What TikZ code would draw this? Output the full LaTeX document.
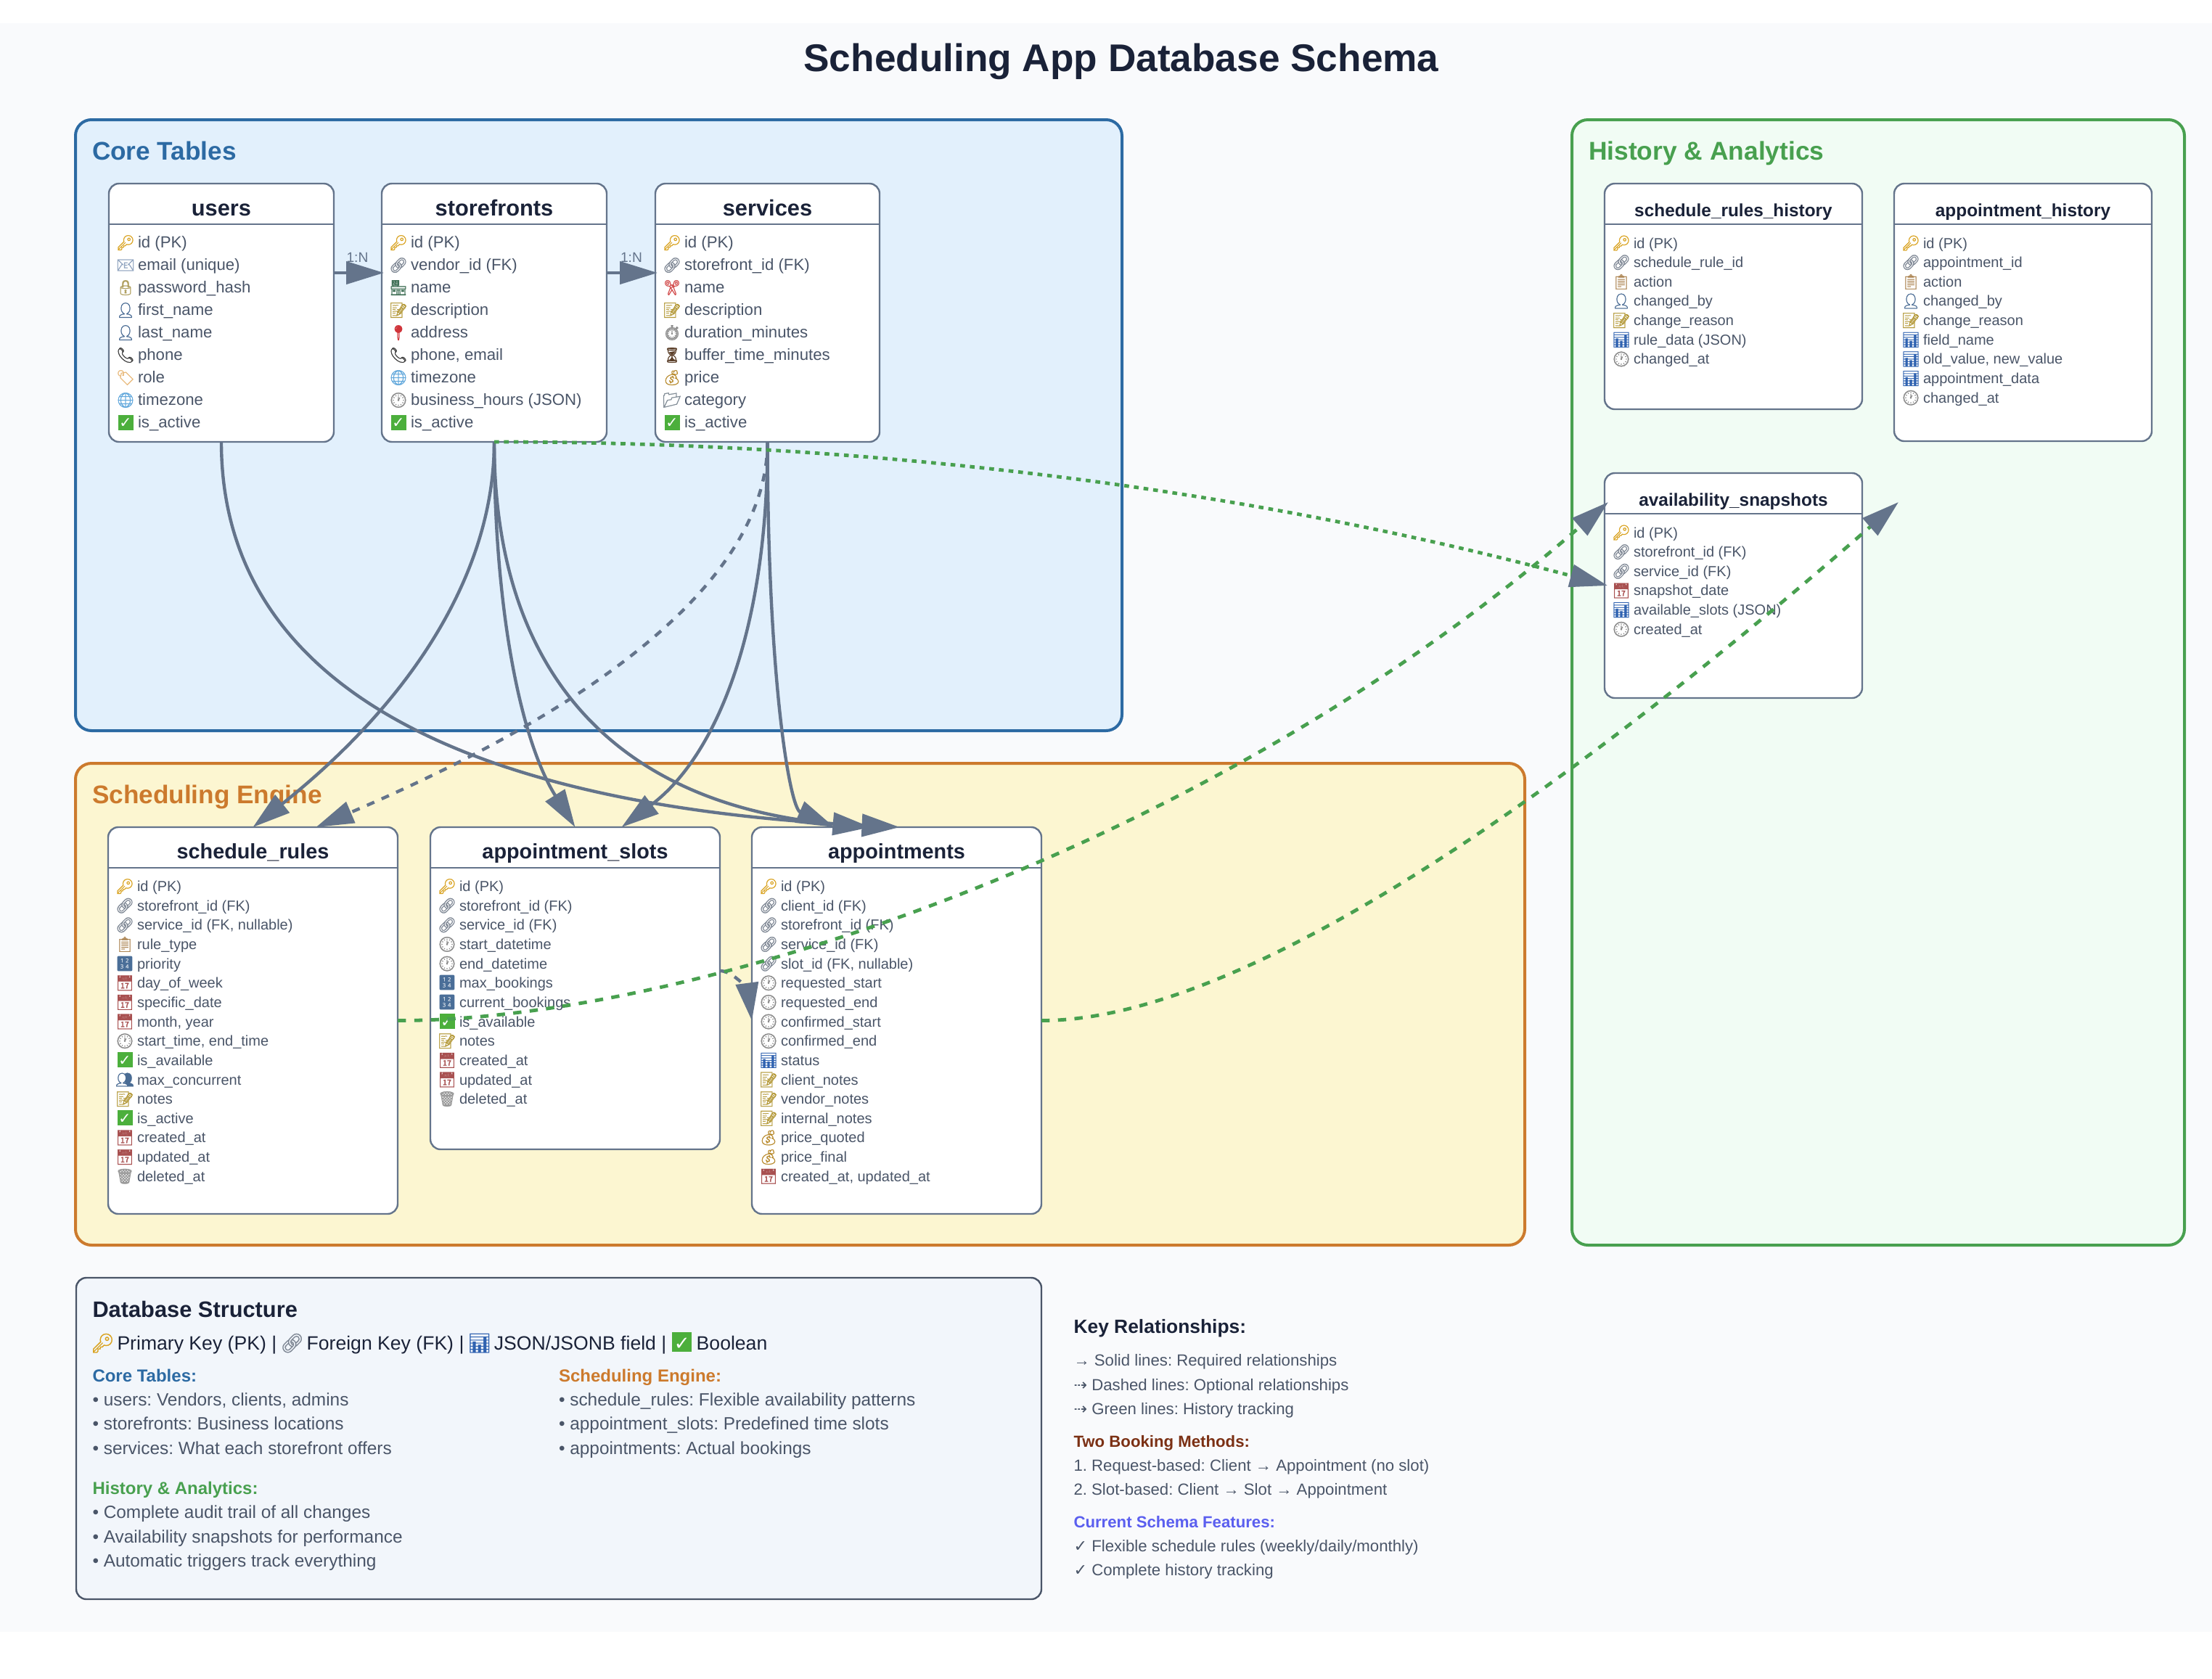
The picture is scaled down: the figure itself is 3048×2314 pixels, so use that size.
\documentclass[tikz,border=0pt]{standalone}
\usepackage{fontspec}
\setmainfont{Liberation Sans}
\newfontfamily\emojifont[FakeBold=1.2]{Noto Emoji}
\newfontfamily\emojithin{Noto Emoji}
\newfontfamily\djv{DejaVu Sans}
\usetikzlibrary{arrows.meta}
\definecolor{slatec}{HTML}{64748B}
\definecolor{inkc}{HTML}{1A2238}
\definecolor{fieldc}{HTML}{4A5568}
\definecolor{coreB}{HTML}{2C6AA3}
\definecolor{coreF}{HTML}{E2F0FC}
\definecolor{schedB}{HTML}{CC7A2D}
\definecolor{schedF}{HTML}{FCF6D1}
\definecolor{histB}{HTML}{48A04F}
\definecolor{histF}{HTML}{F1FCF4}
\definecolor{legF}{HTML}{F2F6FB}
\definecolor{bookc}{HTML}{7B3014}
\definecolor{featc}{HTML}{5B5FEF}
\definecolor{bgc}{HTML}{F9FAFC}
\definecolor{cKey}{HTML}{D9A21E}
\definecolor{cLink}{HTML}{7E8794}
\definecolor{cMail}{HTML}{8FA3BF}
\definecolor{cLock}{HTML}{B0A060}
\definecolor{cUser}{HTML}{4A6C94}
\definecolor{cPhone}{HTML}{3A3A3A}
\definecolor{cTag}{HTML}{E8B878}
\definecolor{cGlobe}{HTML}{62A8DC}
\definecolor{cOk}{HTML}{4CAF3C}
\definecolor{cStore}{HTML}{3F6F55}
\definecolor{cMemo}{HTML}{B59A3A}
\definecolor{cPin}{HTML}{D0343A}
\definecolor{cClock}{HTML}{8A8A8A}
\definecolor{cCut}{HTML}{D24A4A}
\definecolor{cGlass}{HTML}{5A3E28}
\definecolor{cBag}{HTML}{B88A2C}
\definecolor{cFold}{HTML}{7F8A94}
\definecolor{cClip}{HTML}{B08A5A}
\definecolor{cNum}{HTML}{4A6E98}
\definecolor{cCal}{HTML}{A85050}
\definecolor{cBin}{HTML}{9A9A9A}
\definecolor{cChart}{HTML}{2F62B0}
\def\icsz{10.2}
\def\icw{11}
\newcommand\ic[2]{\makebox[\icw pt][c]{\fontsize{\icsz}{\icsz}\emojifont\textcolor{#1}{#2}}\hspace{3pt}}
\newcommand\iKey{\ic{cKey}{🔑}}
\newcommand\iLink{\ic{cLink}{🔗}}
\newcommand\iMail{\ic{cMail}{📧}}
\newcommand\iLock{\ic{cLock}{🔒}}
\newcommand\iUser{\ic{cUser}{👤}}
\newcommand\iPhone{\ic{cPhone}{📞}}
\newcommand\iTag{\ic{cTag}{🏷}}
\newcommand\iGlobe{\ic{cGlobe}{🌐}}
\newcommand\iOk{\makebox[\icw pt][c]{\rlap{\textcolor{cOk}{\rule[-1.5pt]{\dimexpr\icw pt-0.5pt\relax}{\dimexpr\icw pt-0.5pt\relax}}}\makebox[\dimexpr\icw pt-0.5pt\relax][c]{\fontsize{\icsz}{\icsz}\djv\textcolor{white}{✓}}}\hspace{3pt}}
\newcommand\iStore{\ic{cStore}{🏪}}
\newcommand\iMemo{\ic{cMemo}{📝}}
\newcommand\iPin{\ic{cPin}{📍}}
\newcommand\iClock{\ic{cClock}{🕐}}
\newcommand\iCut{\ic{cCut}{✂}}
\newcommand\iWatch{\ic{cClock}{⏱}}
\newcommand\iGlass{\ic{cGlass}{⏳}}
\newcommand\iBag{\ic{cBag}{💰}}
\newcommand\iFold{\ic{cFold}{📂}}
\newcommand\iClip{\ic{cClip}{📋}}
\newcommand\iNum{\makebox[\icw pt][c]{\fontsize{\icsz}{\icsz}\emojithin\textcolor{cNum}{🔢}}\hspace{3pt}}
\newcommand\iCal{\ic{cCal}{📅}}
\newcommand\iTwo{\ic{cUser}{👥}}
\newcommand\iBin{\ic{cBin}{🗑}}
\newcommand\iChart{\ic{cChart}{📊}}
\tikzset{
  x=0.5pt,y=-0.5pt,
  groupbox/.style={line width=2pt,rounded corners=11pt},
  tablebox/.style={shape=rectangle,draw=slatec,fill=white,line width=1.2pt,rounded corners=7pt,inner sep=0pt,outer sep=0pt},
  hline/.style={draw=slatec,line width=1.2pt},
  txt/.style={anchor=base west,inner sep=0pt,outer sep=0pt},
  ctxt/.style={anchor=base,inner sep=0pt,outer sep=0pt},
  conn/.style={draw=slatec,line width=2.2pt,-{Triangle[length=26pt,width=15.5pt,color=slatec,fill=slatec]}},
  dashconn/.style={conn,dash pattern=on 5.5pt off 5.5pt},
  greenconn/.style={conn,draw=histB,line width=2.4pt,dash pattern=on 5.7pt off 5.7pt},
  dotconn/.style={conn,draw=histB,line width=2.4pt,dash pattern=on 3.3pt off 3.4pt},
}
\newcommand\fs[1]{\fontsize{#1}{#1}\selectfont}
% table: name x1 y1 x2 y2 headerY titleSize titleBaseY title
\newcommand\tbl[9]{%
  \pgfmathsetmacro\tw{(#4-#2)*0.5}\pgfmathsetmacro\th{(#5-#3)*0.5}%
  \pgfmathsetmacro\tcx{(#2+#4)*0.5}\pgfmathsetmacro\tcy{(#3+#5)*0.5}%
  \node[tablebox,minimum width=\tw pt,minimum height=\th pt] (#1) at (\tcx,\tcy) {};
  \draw[hline] (#2,#6) -- (#4,#6);
  \node[ctxt,font=\bfseries\fs{#7},text=inkc] (#1-title) at (\tcx,#8) {#9};
}
\newcount\rowc
\newcommand\rows[5]{\def\rname{#1}\def\rx{#2}\def\ry{#3}\def\rstep{#4}\def\rfs{#5}\rowc=0 }
\newcommand\fld[2]{%
  \pgfmathsetmacro\fy{\ry+\rstep*\the\rowc}%
  \node[txt,font=\fs{\rfs},text=fieldc] (\rname-\the\rowc) at (\rx,\fy) {#1#2};
  \advance\rowc by 1 }
\begin{document}
\frenchspacing
\begin{tikzpicture}
\useasboundingbox (0,0) rectangle (3048,2314);
\fill[bgc] (0,32) rectangle (3048,2249);
\node[ctxt,font=\bfseries\fs{26.6},text=inkc] (maintitle) at (1545,98) {Scheduling App Database Schema};
% groups
\draw[groupbox,draw=coreB,fill=coreF] (104,165) rectangle (1546,1007);
\draw[groupbox,draw=schedB,fill=schedF] (104,1052) rectangle (2101,1716);
\draw[groupbox,draw=histB,fill=histF] (2166,165) rectangle (3010,1716);
\node[txt,font=\bfseries\fs{17.6},text=coreB] (gcore) at (127,220) {Core Tables};
\node[txt,font=\bfseries\fs{17.6},text=schedB] (gsched) at (127,1107) {Scheduling Engine};
\node[txt,font=\bfseries\fs{17.7},text=histB] (ghist) at (2189,220) {History \& Analytics};
% core tables
\tbl{users}{150}{253}{460}{609}{309}{15.4}{297}{users}
\rows{users}{162}{341.5}{31}{11.1}
\fld\iKey{id (PK)}\fld\iMail{email (unique)}\fld\iLock{password\_hash}\fld\iUser{first\_name}\fld\iUser{last\_name}\fld\iPhone{phone}\fld\iTag{role}\fld\iGlobe{timezone}\fld\iOk{is\_active}
\tbl{storefronts}{526}{253}{836}{609}{309}{15.4}{297}{storefronts}
\rows{storefronts}{538}{341.5}{31}{11.1}
\fld\iKey{id (PK)}\fld\iLink{vendor\_id (FK)}\fld\iStore{name}\fld\iMemo{description}\fld\iPin{address}\fld\iPhone{phone, email}\fld\iGlobe{timezone}\fld\iClock{business\_hours (JSON)}\fld\iOk{is\_active}
\tbl{services}{903}{253}{1212}{609}{309}{15.4}{297}{services}
\rows{services}{915}{341.5}{31}{11.1}
\fld\iKey{id (PK)}\fld\iLink{storefront\_id (FK)}\fld\iCut{name}\fld\iMemo{description}\fld\iWatch{duration\_minutes}\fld\iGlass{buffer\_time\_minutes}\fld\iBag{price}\fld\iFold{category}\fld\iOk{is\_active}
% scheduling tables
\tbl{schedule}{149}{1140}{548}{1673}{1196}{14.4}{1183.5}{schedule\_rules}
\rows{schedule}{161}{1228.5}{26.65}{10}
\fld\iKey{id (PK)}\fld\iLink{storefront\_id (FK)}\fld\iLink{service\_id (FK, nullable)}\fld\iClip{rule\_type}\fld\iNum{priority}\fld\iCal{day\_of\_week}\fld\iCal{specific\_date}\fld\iCal{month, year}\fld\iClock{start\_time, end\_time}\fld\iOk{is\_available}\fld\iTwo{max\_concurrent}\fld\iMemo{notes}\fld\iOk{is\_active}\fld\iCal{created\_at}\fld\iCal{updated\_at}\fld\iBin{deleted\_at}
\tbl{slots}{593}{1140}{992}{1584}{1196}{14.4}{1183.5}{appointment\_slots}
\rows{slots}{605}{1228.5}{26.65}{10}
\fld\iKey{id (PK)}\fld\iLink{storefront\_id (FK)}\fld\iLink{service\_id (FK)}\fld\iClock{start\_datetime}\fld\iClock{end\_datetime}\fld\iNum{max\_bookings}\fld\iNum{current\_bookings}\fld\iOk{is\_available}\fld\iMemo{notes}\fld\iCal{created\_at}\fld\iCal{updated\_at}\fld\iBin{deleted\_at}
\tbl{appointments}{1036}{1140}{1435}{1673}{1196}{14.4}{1183.5}{appointments}
\rows{appointments}{1048}{1228.5}{26.65}{10}
\fld\iKey{id (PK)}\fld\iLink{client\_id (FK)}\fld\iLink{storefront\_id (FK)}\fld\iLink{service\_id (FK)}\fld\iLink{slot\_id (FK, nullable)}\fld\iClock{requested\_start}\fld\iClock{requested\_end}\fld\iClock{confirmed\_start}\fld\iClock{confirmed\_end}\fld\iChart{status}\fld\iMemo{client\_notes}\fld\iMemo{vendor\_notes}\fld\iMemo{internal\_notes}\fld\iBag{price\_quoted}\fld\iBag{price\_final}\fld\iCal{created\_at, updated\_at}
% history tables
\tbl{rulehist}{2211}{253}{2566}{564}{309}{12.2}{298}{schedule\_rules\_history}
\rows{rulehist}{2223}{342}{26.65}{10}
\fld\iKey{id (PK)}\fld\iLink{schedule\_rule\_id}\fld\iClip{action}\fld\iUser{changed\_by}\fld\iMemo{change\_reason}\fld\iChart{rule\_data (JSON)}\fld\iClock{changed\_at}
\tbl{apphist}{2610}{253}{2965}{608}{309}{12.2}{298}{appointment\_history}
\rows{apphist}{2622}{342}{26.65}{10}
\fld\iKey{id (PK)}\fld\iLink{appointment\_id}\fld\iClip{action}\fld\iUser{changed\_by}\fld\iMemo{change\_reason}\fld\iChart{field\_name}\fld\iChart{old\_value, new\_value}\fld\iChart{appointment\_data}\fld\iClock{changed\_at}
\tbl{snapshots}{2211}{652}{2566}{962}{708}{12.2}{697}{availability\_snapshots}
\rows{snapshots}{2223}{741}{26.65}{10}
\fld\iKey{id (PK)}\fld\iLink{storefront\_id (FK)}\fld\iLink{service\_id (FK)}\fld\iCal{snapshot\_date}\fld\iChart{available\_slots (JSON)}\fld\iClock{created\_at}
% connectors
\coordinate (histA) at (2216,692);
\coordinate (histB) at (2616,692);
\draw[conn] ([yshift=27.5pt]users.east) -- ([yshift=27.5pt,xshift=1.5pt]storefronts.west);
\draw[conn] ([yshift=27.5pt]storefronts.east) -- ([yshift=27.5pt,xshift=1.5pt]services.west);
\node[ctxt,font=\fs{9.6},text=slatec] (lab1) at (492.5,361) {1:N};
\node[ctxt,font=\fs{9.6},text=slatec] (lab2) at (870,361) {1:N};
\draw[conn] (users.south) .. controls (305,932) and (615,1109) .. ([xshift=2pt]appointments.north);
\draw[conn] (storefronts.south) .. controls (681,786) and (571,963) .. (schedule.north);
\draw[conn] (storefronts.south) .. controls (681,846) and (719,1023) .. (slots.north);
\draw[conn] (storefronts.south) .. controls (681,932) and (853,1109) .. ([xshift=-18pt]appointments.north);
\draw[conn] (services.south) .. controls (1058,859) and (991,1039) .. ([xshift=32pt]slots.north);
\draw[conn] (services.south) .. controls (1058,936) and (1088,1113) .. ([xshift=-43pt]appointments.north);
\draw[dashconn] (services.south) .. controls (1058,786) and (850,963) .. ([xshift=43.5pt]schedule.north);
\draw[dashconn] ([yshift=12pt]slots.east) .. controls (1012,1338) and (1031,1368) .. (appointments.west);
\draw[greenconn] (schedule.east) .. controls (950,1407) and (1668,1170) .. (histA);
\draw[greenconn] (appointments.east) .. controls (1675,1407) and (2068,1170) .. (histB);
\draw[dotconn] (storefronts.south) .. controls (1212,609) and (1723,675) .. ([xshift=2pt]snapshots.west);
% legend box
\node[tablebox,fill=legF,draw=fieldc,minimum width=665pt,minimum height=221.5pt] (legend) at (770,1982.5) {};
\node[txt,font=\bfseries\fs{15.4},text=inkc] (legtitle) at (127.5,1815) {Database Structure};
\def\icsz{13}\def\icw{14}
\node[txt,font=\fs{13.3},text=inkc] (legkeys) at (127.5,1860) {\iKey Primary Key (PK) | \iLink Foreign Key (FK) | \iChart JSON/JSONB field | \iOk Boolean};
\def\icsz{10.2}\def\icw{11}
\node[txt,font=\bfseries\fs{12},text=coreB] (lcore) at (127.5,1904) {Core Tables:};
\node[txt,font=\fs{12.2},text=fieldc] (lcore1) at (127.5,1937) {• users: Vendors, clients, admins};
\node[txt,font=\fs{12.2},text=fieldc] (lcore2) at (127.5,1970) {• storefronts: Business locations};
\node[txt,font=\fs{12.2},text=fieldc] (lcore3) at (127.5,2004) {• services: What each storefront offers};
\node[txt,font=\bfseries\fs{12},text=schedB] (lsched) at (770,1904) {Scheduling Engine:};
\node[txt,font=\fs{12.2},text=fieldc] (lsched1) at (770,1937) {• schedule\_rules: Flexible availability patterns};
\node[txt,font=\fs{12.2},text=fieldc] (lsched2) at (770,1970) {• appointment\_slots: Predefined time slots};
\node[txt,font=\fs{12.2},text=fieldc] (lsched3) at (770,2004) {• appointments: Actual bookings};
\node[txt,font=\bfseries\fs{12},text=histB] (lhist) at (127.5,2059) {History \& Analytics:};
\node[txt,font=\fs{12.2},text=fieldc] (lhist1) at (127.5,2092) {• Complete audit trail of all changes};
\node[txt,font=\fs{12.2},text=fieldc] (lhist2) at (127.5,2126) {• Availability snapshots for performance};
\node[txt,font=\fs{12.2},text=fieldc] (lhist3) at (127.5,2159) {• Automatic triggers track everything};
% right notes
\node[txt,font=\bfseries\fs{13.2},text=inkc] (kr) at (1479.5,1837) {Key Relationships:};
\node[txt,font=\fs{11.1},text=fieldc] (kr1) at (1479.5,1882) {→ Solid lines: Required relationships};
\node[txt,font=\fs{11.1},text=fieldc] (kr2) at (1479.5,1916) {{\djv ⇢} Dashed lines: Optional relationships};
\node[txt,font=\fs{11.1},text=fieldc] (kr3) at (1479.5,1949) {{\djv ⇢} Green lines: History tracking};
\node[txt,font=\bfseries\fs{11.1},text=bookc] (tb) at (1479.5,1994) {Two Booking Methods:};
\node[txt,font=\fs{11.1},text=fieldc] (tb1) at (1479.5,2027) {1. Request-based: Client → Appointment (no slot)};
\node[txt,font=\fs{11.1},text=fieldc] (tb2) at (1479.5,2060) {2. Slot-based: Client → Slot → Appointment};
\node[txt,font=\bfseries\fs{11.1},text=featc] (cf) at (1479.5,2105) {Current Schema Features:};
\node[txt,font=\fs{11.1},text=fieldc] (cf1) at (1479.5,2138) {{\djv ✓} Flexible schedule rules (weekly/daily/monthly)};
\node[txt,font=\fs{11.1},text=fieldc] (cf2) at (1479.5,2171) {{\djv ✓} Complete history tracking};
\end{tikzpicture}
\end{document}
